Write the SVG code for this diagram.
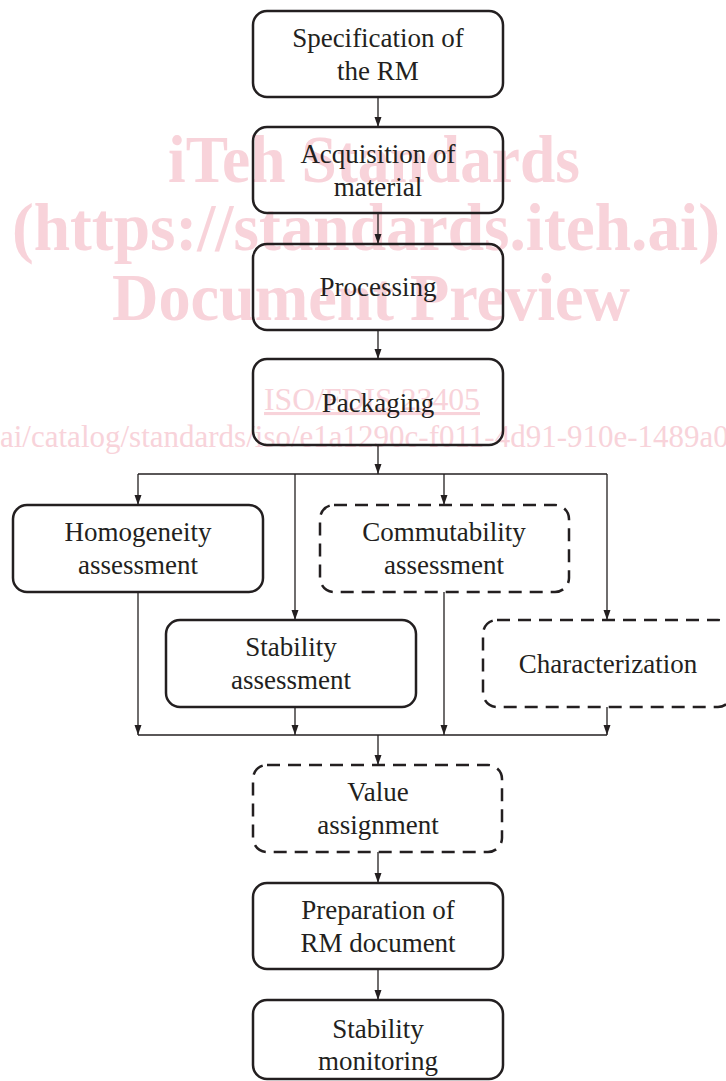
<svg xmlns="http://www.w3.org/2000/svg" width="726" height="1081" viewBox="0 0 726 1081">
  <style>
    .wm { font-family: "Liberation Serif", "Times New Roman", serif; fill: #f8d3da; }
    .wmb { font-weight: bold; font-size: 68px; }
    .wmr { font-size: 31px; }
    .box { fill: none; stroke: #231f20; stroke-width: 2.5; }
    .dash { stroke-dasharray: 13 8; }
    .lbl { font-family: "Liberation Serif", "Times New Roman", serif; font-size: 27px; fill: #231f20; text-anchor: middle; }
    .con { fill: none; stroke: #231f20; stroke-width: 1.3; }
  </style>
  <defs>
    <marker id="arr" markerUnits="userSpaceOnUse" markerWidth="10" markerHeight="8" refX="10" refY="3.5" orient="auto">
      <path d="M0,0 L10,3.5 L0,7 z" fill="#231f20"/>
    </marker>
  </defs>
  <rect width="726" height="1081" fill="#ffffff"/>

  <g id="watermark" class="wm">
    <text class="wmb" x="168" y="182" textLength="412" lengthAdjust="spacingAndGlyphs">iTeh Standards</text>
    <text class="wmb" x="12" y="250" textLength="708" lengthAdjust="spacingAndGlyphs">(https://standards.iteh.ai)</text>
    <text class="wmb" x="112" y="320" textLength="518" lengthAdjust="spacingAndGlyphs">Document Preview</text>
    <text class="wmr" x="264" y="410" font-size="32" textLength="216" lengthAdjust="spacingAndGlyphs" text-decoration="underline">ISO/FDIS 23405</text>
    <text class="wmr" x="0" y="447">ai/catalog/standards/iso/e1a1290c-f011-4d91-910e-1489a0</text>
  </g>

  <g id="connectors">
    <line class="con" x1="378" y1="97" x2="378" y2="127" marker-end="url(#arr)"/>
    <line class="con" x1="378" y1="213" x2="378" y2="244" marker-end="url(#arr)"/>
    <line class="con" x1="378" y1="330" x2="378" y2="359" marker-end="url(#arr)"/>
    <line class="con" x1="378" y1="445" x2="378" y2="474" marker-end="url(#arr)"/>
    <line class="con" x1="138" y1="474" x2="607" y2="474"/>
    <line class="con" x1="138" y1="474" x2="138" y2="505" marker-end="url(#arr)"/>
    <line class="con" x1="295" y1="474" x2="295" y2="620" marker-end="url(#arr)"/>
    <line class="con" x1="444" y1="474" x2="444" y2="505" marker-end="url(#arr)"/>
    <line class="con" x1="607" y1="474" x2="607" y2="620" marker-end="url(#arr)"/>
    <line class="con" x1="138" y1="592" x2="138" y2="735" marker-end="url(#arr)"/>
    <line class="con" x1="295" y1="707" x2="295" y2="735" marker-end="url(#arr)"/>
    <line class="con" x1="444" y1="592" x2="444" y2="735" marker-end="url(#arr)"/>
    <line class="con" x1="607" y1="707" x2="607" y2="735" marker-end="url(#arr)"/>
    <line class="con" x1="138" y1="735" x2="607" y2="735"/>
    <line class="con" x1="378" y1="735" x2="378" y2="765" marker-end="url(#arr)"/>
    <line class="con" x1="378" y1="852" x2="378" y2="883" marker-end="url(#arr)"/>
    <line class="con" x1="378" y1="969" x2="378" y2="1000" marker-end="url(#arr)"/>
  </g>

  <g id="spec">
    <rect class="box" x="253" y="11" width="250" height="86" rx="14"/>
    <text class="lbl" x="378" y="47">Specification of</text>
    <text class="lbl" x="378" y="80">the RM</text>
  </g>
  <g id="acquisition">
    <rect class="box" x="253" y="127" width="250" height="86" rx="14"/>
    <text class="lbl" x="378" y="163">Acquisition of</text>
    <text class="lbl" x="378" y="196">material</text>
  </g>
  <g id="processing">
    <rect class="box" x="253" y="244" width="250" height="86" rx="14"/>
    <text class="lbl" x="378" y="296">Processing</text>
  </g>
  <g id="packaging">
    <rect class="box" x="253" y="359" width="250" height="86" rx="14"/>
    <text class="lbl" x="378" y="412">Packaging</text>
  </g>
  <g id="homogeneity">
    <rect class="box" x="13" y="505" width="250" height="87" rx="14"/>
    <text class="lbl" x="138" y="541">Homogeneity</text>
    <text class="lbl" x="138" y="574">assessment</text>
  </g>
  <g id="commutability">
    <rect class="box dash" x="320" y="505" width="249" height="87" rx="14"/>
    <text class="lbl" x="444" y="541">Commutability</text>
    <text class="lbl" x="444" y="574">assessment</text>
  </g>
  <g id="stability">
    <rect class="box" x="166" y="620" width="250" height="87" rx="14"/>
    <text class="lbl" x="291" y="656">Stability</text>
    <text class="lbl" x="291" y="689">assessment</text>
  </g>
  <g id="characterization">
    <rect class="box dash" x="483" y="620" width="249" height="87" rx="14"/>
    <text class="lbl" x="608" y="673">Characterization</text>
  </g>
  <g id="value">
    <rect class="box dash" x="253" y="765" width="249" height="87" rx="14"/>
    <text class="lbl" x="378" y="801">Value</text>
    <text class="lbl" x="378" y="834">assignment</text>
  </g>
  <g id="preparation">
    <rect class="box" x="253" y="883" width="250" height="86" rx="14"/>
    <text class="lbl" x="378" y="919">Preparation of</text>
    <text class="lbl" x="378" y="952">RM document</text>
  </g>
  <g id="monitoring">
    <rect class="box" x="253" y="1000" width="250" height="79" rx="14"/>
    <text class="lbl" x="378" y="1038">Stability</text>
    <text class="lbl" x="378" y="1070">monitoring</text>
  </g>
</svg>
